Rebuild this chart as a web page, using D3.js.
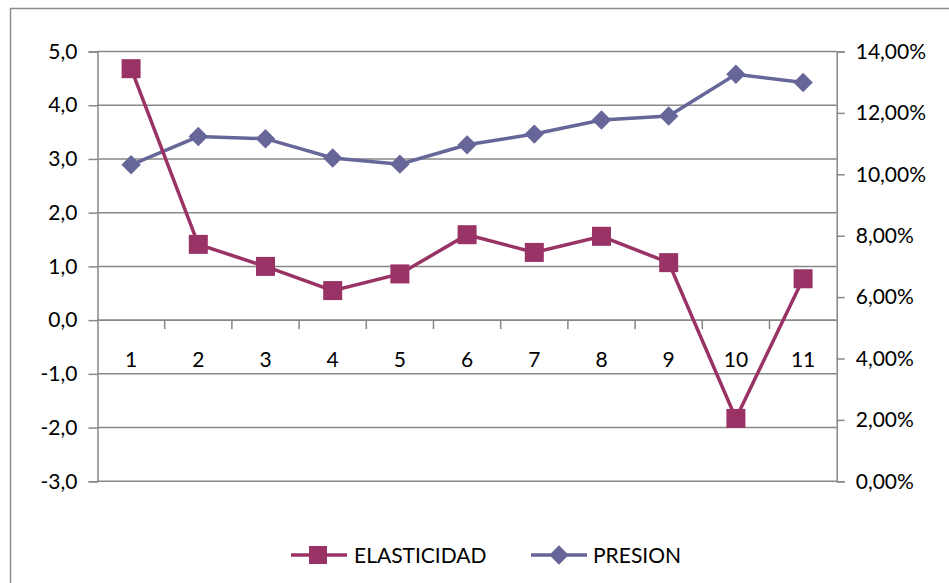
<!DOCTYPE html>
<html>
<head>
<meta charset="utf-8">
<script src="https://cdn.jsdelivr.net/npm/d3@7"></script>
<style>
  html, body { margin: 0; padding: 0; background: #fff; }
  svg { display: block; font-family: Lato, "Open Sans", sans-serif; }
</style>
</head>
<body>
<svg id="chart" width="949" height="583"></svg>
<script>
// Data
const categories = [1, 2, 3, 4, 5, 6, 7, 8, 9, 10, 11];
const elasticidad = [4.68, 1.41, 1.00, 0.55, 0.86, 1.59, 1.26, 1.56, 1.07, -1.83, 0.77];
const presion = [0.1031, 0.1123, 0.1116, 0.1053, 0.1033, 0.1096, 0.1131, 0.1177, 0.1190, 0.1326, 0.1299];
const leftTicks = [-3, -2, -1, 0, 1, 2, 3, 4, 5];
const rightTicks = [0, 0.02, 0.04, 0.06, 0.08, 0.10, 0.12, 0.14];
const seriesNames = ["ELASTICIDAD", "PRESION"];

const colElas = "#993366";
const colPres = "#666699";
const gridCol = "#878787";
const fontSize = 21;

const svg = d3.select("#chart");
const m = { left: 97.5, right: 836.7, top: 51.5, bottom: 481.3 };

// Outer frame
svg.append("rect")
  .attr("x", 10.5).attr("y", 8.5)
  .attr("width", 960).attr("height", 600)
  .attr("fill", "none").attr("stroke", "#8c8c8c").attr("stroke-width", 1.5);

const x = d3.scaleBand().domain(categories).range([m.left, m.right]).padding(0);
const yL = d3.scaleLinear().domain([-3, 5]).range([m.bottom, m.top]);
const yR = d3.scaleLinear().domain([0, 0.14]).range([m.bottom, m.top]);

// Comma decimals, plain hyphen for negatives
const fmtL = d => d.toFixed(1).replace(".", ",");
const fmtR = d => (d * 100).toFixed(2).replace(".", ",") + "%";

// Horizontal gridlines from the left axis
svg.append("g").selectAll("line").data(leftTicks).join("line")
  .attr("x1", m.left).attr("x2", m.right)
  .attr("y1", d => yL(d)).attr("y2", d => yL(d))
  .attr("stroke", gridCol).attr("stroke-width", 1.5);

// Left axis
const gL = svg.append("g").attr("transform", `translate(${m.left},0)`)
  .call(d3.axisLeft(yL).tickValues(leftTicks).tickFormat(fmtL).tickSize(9).tickPadding(11));
gL.select(".domain").attr("stroke", gridCol).attr("stroke-width", 1.5);
gL.selectAll(".tick line").attr("stroke", gridCol).attr("stroke-width", 1.5);
gL.selectAll("text").attr("font-size", fontSize).attr("fill", "#000")
  .attr("font-family", "Lato, 'Open Sans', sans-serif");

// Right axis
const gR = svg.append("g").attr("transform", `translate(${m.right},0)`)
  .call(d3.axisRight(yR).tickValues(rightTicks).tickFormat(fmtR).tickSize(8).tickPadding(11));
gR.select(".domain").attr("stroke", gridCol).attr("stroke-width", 1.5);
gR.selectAll(".tick line").attr("stroke", gridCol).attr("stroke-width", 1.5);
gR.selectAll("text").attr("font-size", fontSize).attr("fill", "#000")
  .attr("font-family", "Lato, 'Open Sans', sans-serif");

// Category axis on the zero line
const y0 = yL(0);
svg.append("line")
  .attr("x1", m.left).attr("x2", m.right).attr("y1", y0).attr("y2", y0)
  .attr("stroke", gridCol).attr("stroke-width", 1.5);
const bounds = categories.slice(1).map(c => x(c));
svg.append("g").selectAll("line").data(bounds).join("line")
  .attr("x1", d => d).attr("x2", d => d)
  .attr("y1", y0).attr("y2", y0 + 9)
  .attr("stroke", gridCol).attr("stroke-width", 1.5);
svg.append("g").selectAll("text").data(categories).join("text")
  .attr("x", d => x(d) + x.bandwidth() / 2)
  .attr("y", y0 + 47)
  .attr("text-anchor", "middle")
  .attr("font-size", fontSize)
  .text(d => d);

const cx = (d, i) => x(categories[i]) + x.bandwidth() / 2;

// PRESION line (right axis)
svg.append("path")
  .datum(presion)
  .attr("d", d3.line().x(cx).y(d => yR(d)))
  .attr("fill", "none").attr("stroke", colPres).attr("stroke-width", 3.5);

// ELASTICIDAD line (left axis)
svg.append("path")
  .datum(elasticidad)
  .attr("d", d3.line().x(cx).y(d => yL(d)))
  .attr("fill", "none").attr("stroke", colElas).attr("stroke-width", 3.5);

const diamond = d3.symbol().type(d3.symbolDiamond2).size(240);
svg.append("g").selectAll("path").data(presion).join("path")
  .attr("d", diamond)
  .attr("transform", (d, i) => `translate(${cx(d, i)},${yR(d)})`)
  .attr("fill", colPres);

const sq = 19;
svg.append("g").selectAll("rect").data(elasticidad).join("rect")
  .attr("x", (d, i) => cx(d, i) - sq / 2)
  .attr("y", d => yL(d) - sq / 2)
  .attr("width", sq).attr("height", sq)
  .attr("fill", colElas);

// Legend
const legY = 555;
const leg = svg.append("g");
leg.append("line").attr("x1", 291).attr("x2", 347).attr("y1", legY).attr("y2", legY)
  .attr("stroke", colElas).attr("stroke-width", 3.5);
leg.append("rect").attr("x", 318 - 9).attr("y", legY - 9).attr("width", 18).attr("height", 18)
  .attr("fill", colElas);
leg.append("text").attr("x", 354).attr("y", legY + 8).attr("font-size", fontSize).text(seriesNames[0]);

leg.append("line").attr("x1", 531).attr("x2", 587).attr("y1", legY).attr("y2", legY)
  .attr("stroke", colPres).attr("stroke-width", 3.5);
leg.append("path").attr("d", diamond).attr("transform", `translate(559,${legY})`)
  .attr("fill", colPres);
leg.append("text").attr("x", 593).attr("y", legY + 8).attr("font-size", fontSize).text(seriesNames[1]);
</script>
</body>
</html>
